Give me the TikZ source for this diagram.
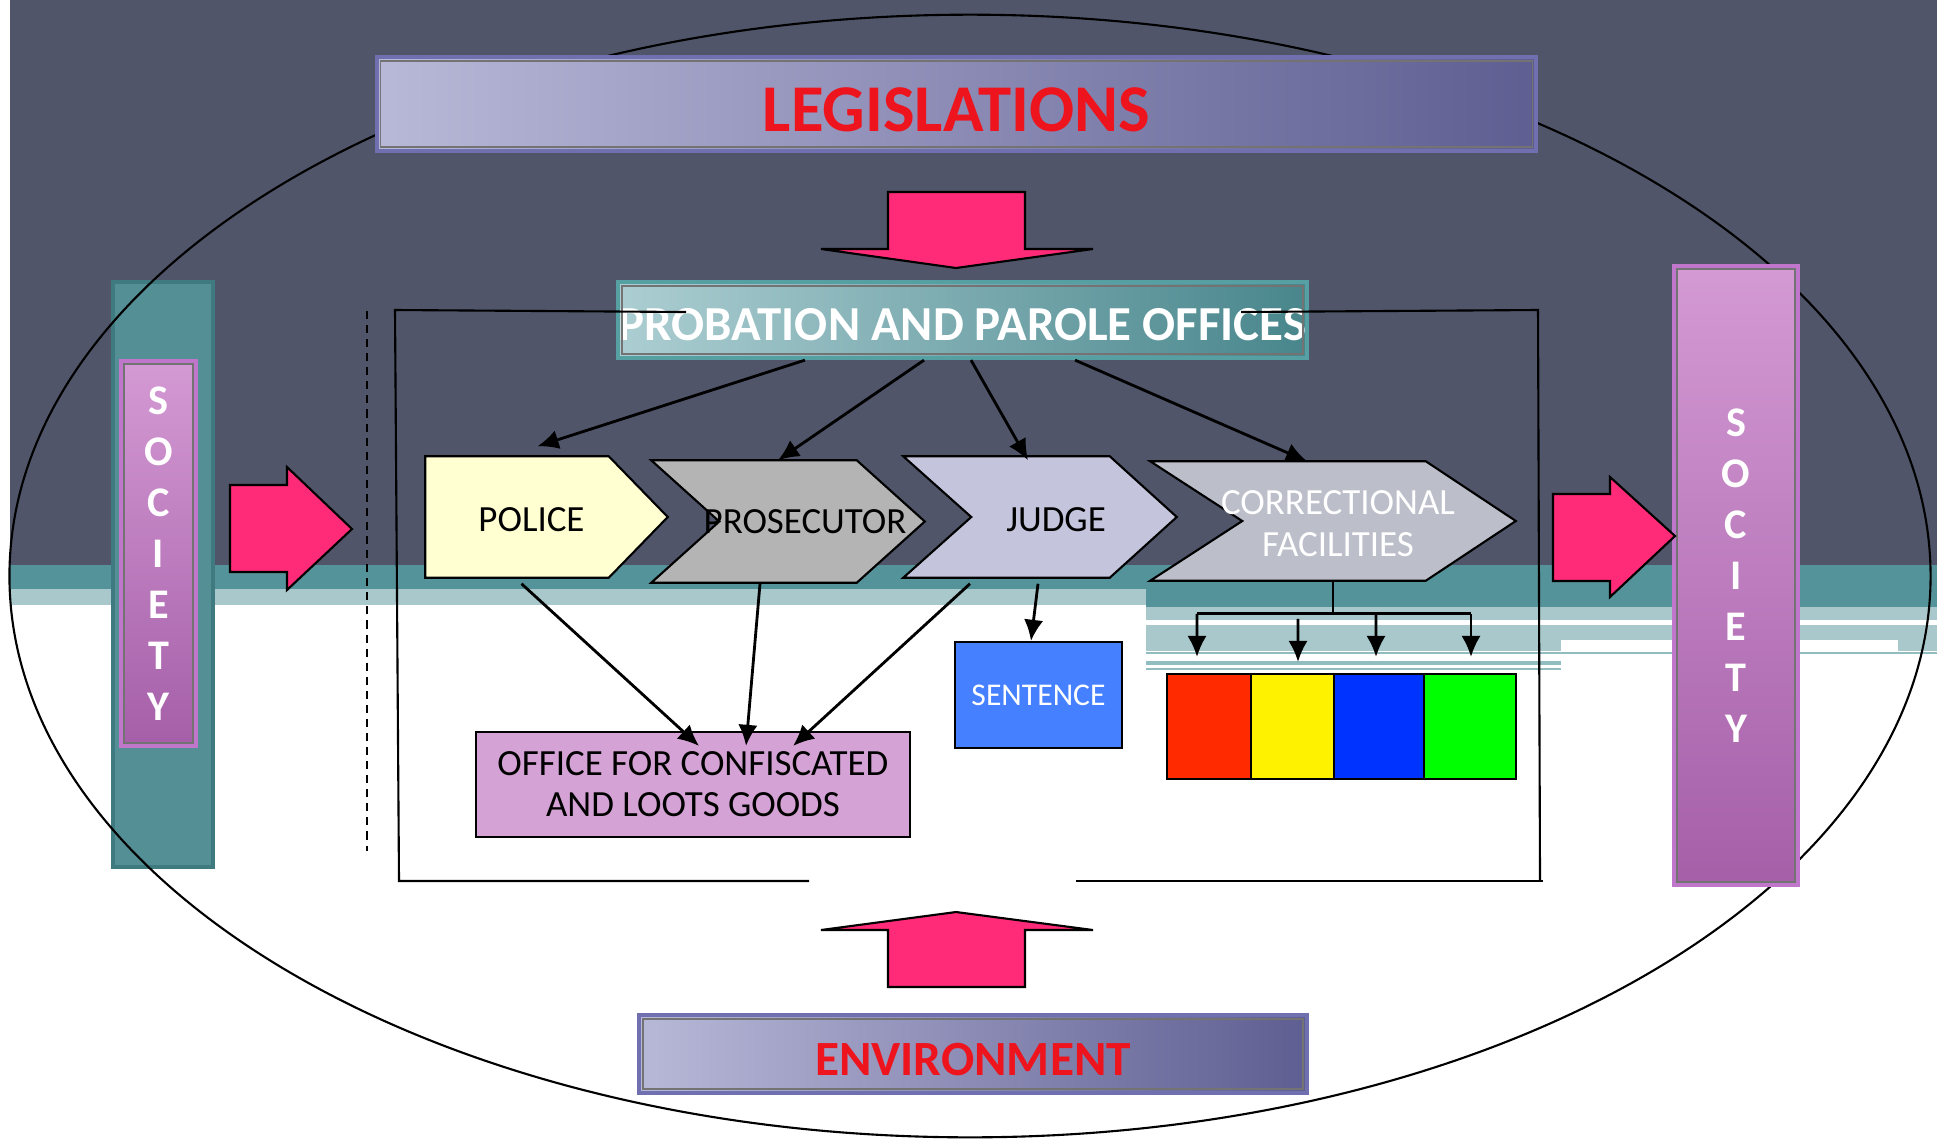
\documentclass[tikz,border=0pt]{standalone}
\usepackage{fontspec}
\setmainfont{Carlito}
\usetikzlibrary{arrows.meta,calc}

\definecolor{slate}{RGB}{80,85,105}
\definecolor{bandteal}{RGB}{85,147,154}
\definecolor{bandlight}{RGB}{168,200,203}
\definecolor{bandline}{RGB}{145,188,192}
\definecolor{hotpink}{RGB}{255,43,120}
\definecolor{legisleft}{RGB}{184,184,216}
\definecolor{legisright}{RGB}{94,94,146}
\definecolor{legisborder}{RGB}{112,112,176}
\definecolor{probleft}{RGB}{172,206,210}
\definecolor{probright}{RGB}{72,134,140}
\definecolor{probborder}{RGB}{86,160,164}
\definecolor{socitop}{RGB}{212,154,212}
\definecolor{socibottom}{RGB}{165,95,168}
\definecolor{sociborder}{RGB}{192,118,202}
\definecolor{tealbar}{RGB}{84,143,150}
\definecolor{tealborder}{RGB}{62,122,128}
\definecolor{policefill}{RGB}{255,255,210}
\definecolor{prosfill}{RGB}{180,180,180}
\definecolor{judgefill}{RGB}{196,196,220}
\definecolor{corrfill}{RGB}{188,190,202}
\definecolor{officefill}{RGB}{212,162,212}
\definecolor{sentfill}{RGB}{68,128,255}
\definecolor{titlered}{RGB}{238,20,30}

\begin{document}
\begin{tikzpicture}[x=0.01cm,y=-0.01cm,
    banner/.style={draw=legisborder,line width=1.2pt,left color=legisleft,right color=legisright,
      inner sep=0pt,text=titlered,font=\bfseries,text depth=0pt},
    innerline/.style={draw=black!55,line width=0.5pt},
    societybar/.style={draw=sociborder,line width=1.2pt,top color=socitop,bottom color=socibottom,
      inner sep=0pt,text=white,align=center,font=\bfseries\fontsize{12}{14.5}\selectfont},
    bigarrow/.style={fill=hotpink,draw=black,line width=0.6pt},
    shapebox/.style={inner sep=0pt},
    chevron/.style={draw=black,line width=0.6pt},
    chevtext/.style={inner sep=0pt,align=center,font=\fontsize{10.5}{12}\selectfont},
    plainbox/.style={draw=black,line width=0.6pt,inner sep=0pt,align=center},
    frame/.style={line width=0.6pt},
    link/.style={-{Latex[length=6pt,width=5.5pt]},line width=0.8pt},
    tree/.style={line width=0.8pt}]

  % page and background bands
  \useasboundingbox (0,0) rectangle (1937,1142);
  \fill[white] (0,0) rectangle (1937,1142);
  \fill[slate] (10,0) rectangle (1937,565);
  \fill[bandteal] (10,565) rectangle (1937,589);
  \fill[bandlight] (10,589) rectangle (1146,605);
  \fill[bandteal] (1146,589) rectangle (1937,607);
  \fill[bandlight] (1146,607) rectangle (1937,620);
  \fill[bandlight] (1146,625) rectangle (1937,640);
  \fill[bandlight] (1146,640) rectangle (1561,651);
  \fill[bandlight] (1898,640) rectangle (1937,651);
  \fill[bandline] (1146,652) rectangle (1937,654);
  \fill[bandline] (1146,661) rectangle (1561,665);
  \fill[bandline] (1146,668) rectangle (1561,670);

  % left society column
  \node[shapebox,fill=tealbar,draw=tealborder,line width=1pt,minimum width=1cm,minimum height=5.85cm]
    (tealcolumn) at (163,574.5) {};

  % outer ellipse
  \draw[line width=0.6pt] (970,576) ellipse [x radius=9.6cm,y radius=5.61cm];

  % society bars
  \node[societybar,minimum width=0.75cm,minimum height=3.85cm] (society-left) at (158.5,553.5)
    {S\\O\\C\\I\\E\\T\\Y};
  \draw[innerline] ([xshift=0.05cm,yshift=-0.05cm]society-left.north west) rectangle
    ([xshift=-0.05cm,yshift=0.05cm]society-left.south east);
  \node[societybar,minimum width=1.24cm,minimum height=6.19cm] (society-right) at (1736,575.5)
    {S\\O\\C\\I\\E\\T\\Y};
  \draw[innerline] ([xshift=0.05cm,yshift=-0.05cm]society-right.north west) rectangle
    ([xshift=-0.05cm,yshift=0.05cm]society-right.south east);

  % block arrows
  \filldraw[bigarrow] (888,192) -- (1025,192) -- (1025,249) -- (1093,249) -- (956,268)
    -- (821,249) -- (888,249) -- cycle;
  \filldraw[bigarrow] (888,987) -- (1025,987) -- (1025,930) -- (1093,930) -- (956,912)
    -- (821,930) -- (888,930) -- cycle;
  \filldraw[bigarrow] (230,485) -- (287,485) -- (287,467) -- (352,529) -- (287,590)
    -- (287,572) -- (230,572) -- cycle;
  \filldraw[bigarrow] (1553,494) -- (1610,494) -- (1610,477) -- (1675,536) -- (1610,597)
    -- (1610,581) -- (1553,581) -- cycle;

  % banners
  \node[banner,minimum width=11.59cm,minimum height=0.94cm,text height=15.6pt] (legislations)
    at (956.5,104) {\fontsize{19}{22}\selectfont LEGISLATIONS};
  \draw[innerline] ([xshift=0.06cm,yshift=-0.06cm]legislations.north west) rectangle
    ([xshift=-0.06cm,yshift=0.06cm]legislations.south east);
  \node[banner,minimum width=6.68cm,minimum height=0.78cm,text height=12.4pt] (environment)
    at (973,1054) {\fontsize{14}{17}\selectfont ENVIRONMENT};
  \draw[innerline] ([xshift=0.06cm,yshift=-0.06cm]environment.north west) rectangle
    ([xshift=-0.06cm,yshift=0.06cm]environment.south east);
  \node[banner,draw=probborder,left color=probleft,right color=probright,text=white,
    minimum width=6.89cm,minimum height=0.76cm,text height=11.8pt] (probation) at (962.5,320)
    {\fontsize{13.9}{16}\selectfont PROBATION AND PAROLE OFFICES};
  \draw[innerline] ([xshift=0.06cm,yshift=-0.06cm]probation.north west) rectangle
    ([xshift=-0.06cm,yshift=0.06cm]probation.south east);

  % chevrons
  \node[shapebox,minimum width=2.41cm,minimum height=1.2cm] (police) at (546.5,517) {};
  \filldraw[chevron,fill=policefill] (police.north west) -- ([xshift=-0.59cm]police.north east)
    -- (police.east) -- ([xshift=-0.59cm]police.south east) -- (police.south west) -- cycle;
  \node[chevtext] (police-text) at ([xshift=-0.15cm,yshift=-0.03cm]police.center) {POLICE};

  \node[shapebox,minimum width=2.72cm,minimum height=1.21cm] (prosecutor) at (788,521.5) {};
  \filldraw[chevron,fill=prosfill] (prosecutor.north west) -- ([xshift=-0.68cm]prosecutor.north east)
    -- (prosecutor.east) -- ([xshift=-0.68cm]prosecutor.south east) -- (prosecutor.south west)
    -- ([xshift=0.68cm]prosecutor.west) -- cycle;
  \node[chevtext] (prosecutor-text) at ([xshift=0.17cm]prosecutor.center) {PROSECUTOR};

  \node[shapebox,minimum width=2.72cm,minimum height=1.2cm] (judge) at (1040,517) {};
  \filldraw[chevron,fill=judgefill] (judge.north west) -- ([xshift=-0.67cm]judge.north east)
    -- (judge.east) -- ([xshift=-0.67cm]judge.south east) -- (judge.south west)
    -- ([xshift=0.68cm]judge.west) -- cycle;
  \node[chevtext] (judge-text) at ([xshift=0.16cm,yshift=-0.03cm]judge.center) {JUDGE};

  \node[shapebox,minimum width=3.64cm,minimum height=1.18cm] (correctional) at (1333,521) {};
  \filldraw[chevron,fill=corrfill] (correctional.north west) -- ([xshift=-0.9cm]correctional.north east)
    -- (correctional.east) -- ([xshift=-0.9cm]correctional.south east) -- (correctional.south west)
    -- ([xshift=0.92cm]correctional.west) -- cycle;
  \node[chevtext,text=white] (correctional-text) at ([xshift=0.05cm,yshift=-0.03cm]correctional.center)
    {CORRECTIONAL\\FACILITIES};

  % outputs
  \node[plainbox,fill=officefill,minimum width=4.34cm,minimum height=1.05cm,
    font=\fontsize{10.5}{11.7}\selectfont] (office) at (693,784.5)
    {OFFICE FOR CONFISCATED\\AND LOOTS GOODS};
  \node[plainbox,fill=sentfill,text=white,minimum width=1.67cm,minimum height=1.06cm,
    font=\fontsize{9}{11}\selectfont] (sentence) at (1038.5,695) {SENTENCE};
  \node[plainbox,fill={rgb,255:red,255;green,42;blue,0},minimum width=0.84cm,minimum height=1.05cm]
    (redcell) at (1209,726.5) {};
  \node[plainbox,fill=yellow,minimum width=0.83cm,minimum height=1.05cm]
    (yellowcell) at (1292.5,726.5) {};
  \node[plainbox,fill={rgb,255:red,0;green,51;blue,255},minimum width=0.9cm,minimum height=1.05cm]
    (bluecell) at (1379,726.5) {};
  \node[plainbox,fill={rgb,255:red,0;green,255;blue,0},minimum width=0.92cm,minimum height=1.05cm]
    (greencell) at (1470,726.5) {};

  % frame and dashed guide
  \draw[frame] (686,312) -- (395,310) -- (399,881) -- (809,881);
  \draw[frame] (1076,881) -- (1543,881);
  \draw[frame] (1241,312) -- (1538,310) -- (1540,881);
  \draw[line width=0.6pt,dash pattern=on 2.3pt off 1.7pt] (367,311) -- (367,851);

  % connectors
  \draw[link] ([xshift=-1.575cm]probation.south) -- ([xshift=-0.09cm,yshift=0.1cm]police.north);
  \draw[link] ([xshift=-0.385cm]probation.south) -- ([xshift=-0.1cm]prosecutor.north);
  \draw[link] ([xshift=0.085cm]probation.south) -- ([xshift=-0.12cm,yshift=-0.04cm]judge.north);
  \draw[link] ([xshift=1.125cm]probation.south) -- ([xshift=-0.26cm]correctional.north);

  \draw[link] ([xshift=-0.25cm,yshift=-0.06cm]police.south) -- ([xshift=0.06cm,yshift=-0.15cm]office.north);
  \draw[link] ([xshift=-0.28cm,yshift=-0.01cm]prosecutor.south) -- ([xshift=0.53cm,yshift=-0.15cm]office.north);
  \draw[link] ([xshift=-0.7cm,yshift=-0.06cm]judge.south) -- ([xshift=1cm,yshift=-0.15cm]office.north);
  \draw[link] ([xshift=-0.02cm,yshift=-0.06cm]judge.south) -- ([xshift=-0.075cm]sentence.north);

  \draw[tree] (correctional.south) -- ++(0,33) coordinate (fork);
  \draw[tree] ($(fork -| redcell.north)+(-12,0)$) -- ($(fork -| greencell.north)+(1,0)$);
  \draw[link] ($(fork -| redcell.north)+(-12,0)$) -- ([xshift=-0.12cm,yshift=0.16cm]redcell.north);
  \draw[link] ($(fork -| yellowcell.north)+(5.5,5)$) -- ([xshift=0.055cm,yshift=0.11cm]yellowcell.north);
  \draw[link] ($(fork -| bluecell.north)+(-3,0)$) -- ([xshift=-0.03cm,yshift=0.16cm]bluecell.north);
  \draw[link] ($(fork -| greencell.north)+(1,0)$) -- ([xshift=0.01cm,yshift=0.16cm]greencell.north);
\end{tikzpicture}
\end{document}
